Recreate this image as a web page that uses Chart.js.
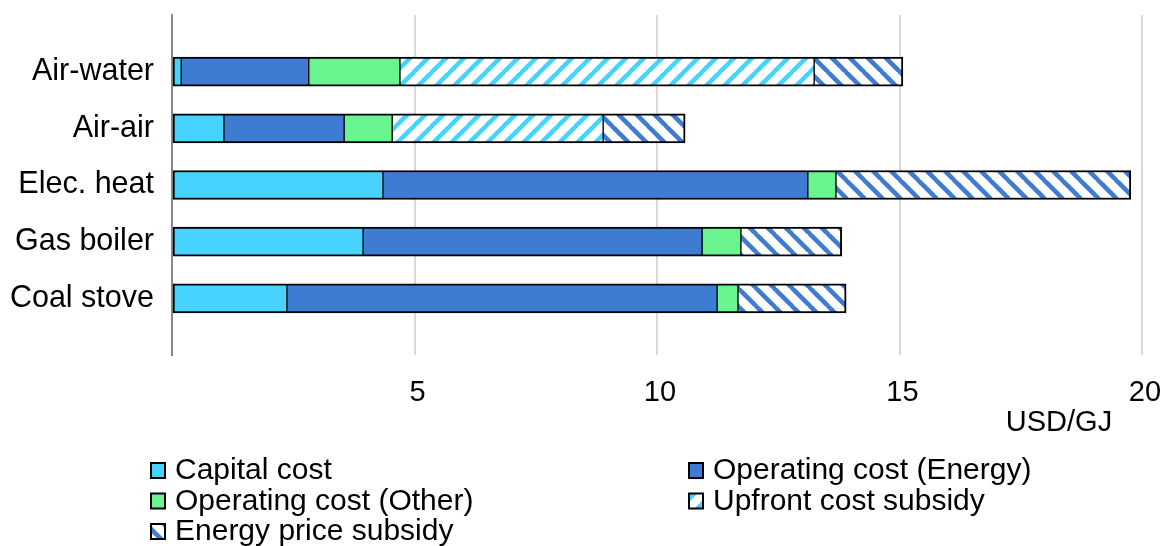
<!DOCTYPE html>
<html>
<head>
<meta charset="utf-8">
<script src="https://cdn.jsdelivr.net/npm/chart.js@4/dist/chart.umd.min.js"></script>
<style>
  html, body { margin: 0; padding: 0; background: #fff; }
</style>
</head>
<body>
<canvas id="chart" width="1163" height="546"></canvas>
<script>
const categories = ['Air-water', 'Air-air', 'Elec. heat', 'Gas boiler', 'Coal stove'];
const capitalCost = [0.19, 1.07, 4.35, 3.94, 2.37];
const energyCost = [2.63, 2.48, 8.76, 6.99, 8.87];
const otherCost = [1.88, 0.99, 0.58, 0.80, 0.43];
const upfrontSubsidy = [8.54, 4.35, null, null, null];
const energySubsidy = [1.83, 1.69, 6.08, 2.08, 2.23];
const xTicks = [5, 10, 15, 20];
const unitLabel = 'USD/GJ';

const FONT = '"Liberation Sans", Arial, sans-serif';
const canvas = document.getElementById('chart');
const ctx = canvas.getContext('2d');

// diagonal hatch tile, '/' or '\'
function stripes(color, dir) {
  const size = 18;
  const tile = document.createElement('canvas');
  tile.width = size;
  tile.height = size;
  const g = tile.getContext('2d');
  g.fillStyle = '#fff';
  g.fillRect(0, 0, size, size);
  g.strokeStyle = color;
  g.lineWidth = 4.5;
  g.beginPath();
  for (let k = -1; k <= 1; k++) {
    if (dir === '/') {
      g.moveTo(k * size - 1, size + 1);
      g.lineTo(k * size + size + 1, -1);
    } else {
      g.moveTo(k * size - 1, -1);
      g.lineTo(k * size + size + 1, size + 1);
    }
  }
  g.stroke();
  return ctx.createPattern(tile, 'repeat');
}

// empty slots at both ends give the gap above and below the bars
const pad = (arr) => [null, ...arr, null];

function series(label, values, fill, left, right) {
  return {
    label,
    data: pad(values),
    backgroundColor: fill,
    borderColor: '#000',
    borderWidth: { top: 2, bottom: 2, left, right },
    borderSkipped: false,
    barThickness: 29,
  };
}

const bottomLegend = {
  id: 'bottomLegend',
  afterDraw(chart) {
    const c = chart.ctx;
    c.save();
    c.font = `30px ${FONT}`;
    c.textBaseline = 'middle';
    chart.data.datasets.forEach((ds, i) => {
      const col = i % 2;
      const row = Math.floor(i / 2);
      const bx = col ? 689 : 151;
      const cy = 470 + row * 30.5;
      c.fillStyle = ds.backgroundColor;
      c.fillRect(bx, cy - 7, 14, 15);
      c.strokeStyle = '#000';
      c.lineWidth = 2;
      c.strokeRect(bx, cy - 7, 14, 15);
      c.fillStyle = '#000';
      c.fillText(ds.label, bx + 24, cy + 1);
    });
    c.font = `29px ${FONT}`;
    c.textAlign = 'center';
    c.fillText(unitLabel, 1059, 423);
    c.restore();
  },
};

new Chart(canvas, {
  type: 'bar',
  data: {
    labels: pad(categories).map((v) => v || ''),
    datasets: [
      series('Capital cost', capitalCost, '#46d3ff', 2, 1),
      series('Operating cost (Energy)', energyCost, '#3e7bd3', 1, 1),
      series('Operating cost (Other)', otherCost, '#69f490', 1, 1),
      series('Upfront cost subsidy', upfrontSubsidy, stripes('#46d3ff', '/'), 1, 1),
      series('Energy price subsidy', energySubsidy, stripes('#3e7bd3', '\\'), 1, 2),
    ],
  },
  options: {
    indexAxis: 'y',
    responsive: false,
    animation: false,
    layout: { padding: { top: 15, right: 21, left: 0, bottom: 0 } },
    plugins: {
      legend: { display: false },
      tooltip: { enabled: false },
    },
    scales: {
      x: {
        stacked: true,
        min: 0,
        max: 20,
        afterBuildTicks: (scale) => {
          scale.ticks = [0, ...xTicks].map((value) => ({ value }));
        },
        afterFit: (scale) => {
          scale.height = 191;
          scale.paddingLeft = 0;
          scale.paddingRight = 0;
        },
        grid: {
          color: (c) => (c.tick && c.tick.value === 0 ? '#888' : '#d9d9d9'),
          lineWidth: 2,
          drawTicks: false,
        },
        border: { display: false },
        ticks: {
          padding: 21,
          labelOffset: 3,
          color: '#000',
          font: { size: 29, family: FONT },
          callback: (v) => (v === 0 ? '' : v),
        },
      },
      y: {
        stacked: true,
        offset: false,
        afterFit: (scale) => {
          scale.width = 172;
          scale.paddingTop = 0;
          scale.paddingBottom = 0;
        },
        grid: { display: false, drawTicks: false },
        border: { display: true, color: '#888', width: 2 },
        ticks: {
          padding: 18,
          color: '#000',
          autoSkip: false,
          font: { size: 30.5, family: FONT },
        },
      },
    },
  },
  plugins: [bottomLegend],
});
</script>
</body>
</html>
